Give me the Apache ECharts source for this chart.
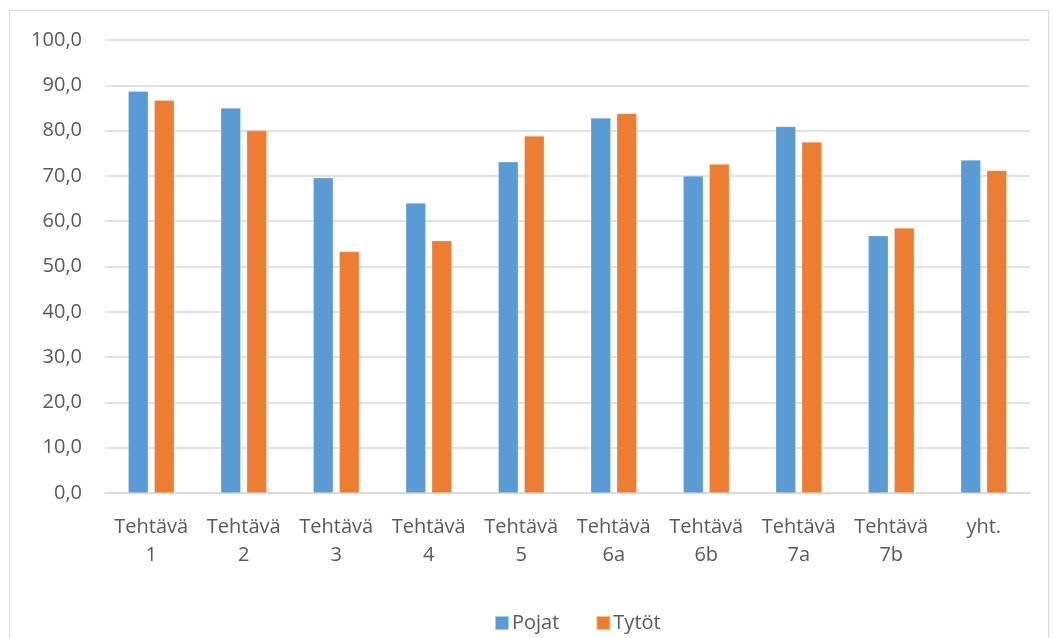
<!DOCTYPE html>
<html>
<head>
<meta charset="utf-8">
<script src="https://cdn.jsdelivr.net/npm/echarts@6/dist/echarts.min.js"></script>
<style>
  html, body { margin: 0; padding: 0; background: #fff; }
  #frame { position: absolute; left: 9px; top: 10px; width: 1040px; height: 640px; border: 1px solid #d9d9d9; box-sizing: border-box; }
  #chart { position: absolute; left: 0; top: 0; width: 1054px; height: 638px; }
</style>
</head>
<body>
<div id="frame"></div>
<div id="chart"></div>
<script>
const categories = ['Tehtävä\n1', 'Tehtävä\n2', 'Tehtävä\n3', 'Tehtävä\n4', 'Tehtävä\n5',
  'Tehtävä\n6a', 'Tehtävä\n6b', 'Tehtävä\n7a', 'Tehtävä\n7b', 'yht.']
const pojat = [88.7, 85.0, 69.6, 64.0, 73.1, 82.8, 70.0, 80.9, 56.8, 73.5]
const tytot = [86.7, 80.0, 53.3, 55.7, 78.8, 83.8, 72.6, 77.5, 58.5, 71.2]
const seriesNames = ['Pojat', 'Tytöt']
const colors = ['#5b9bd5', '#ed7d31']

const font = '"Open Sans", "Liberation Sans", sans-serif'
const textColor = '#595959'

const chart = echarts.init(document.getElementById('chart'))
chart.setOption({
  animation: false,
  color: colors,
  grid: { left: 105, right: 24, top: 40, bottom: 145, containLabel: false },
  legend: {
    top: 608,
    left: 489,
    itemWidth: 14,
    itemHeight: 14,
    itemGap: 36,
    icon: 'rect',
    textStyle: { fontFamily: font, fontSize: 20, color: textColor, padding: [0, 0, 0, -2] },
    data: seriesNames,
  },
  xAxis: {
    type: 'category',
    data: categories,
    axisLine: { lineStyle: { color: '#d9d9d9', width: 1.5 } },
    axisTick: { show: false },
    axisLabel: {
      fontFamily: font, fontSize: 20, color: textColor,
      lineHeight: 28, margin: 20, interval: 0,
    },
  },
  yAxis: {
    type: 'value',
    min: 0,
    max: 100,
    interval: 10,
    axisLine: { show: false },
    axisTick: { show: false },
    splitLine: { lineStyle: { color: '#d9d9d9', width: 1.5 } },
    axisLabel: {
      fontFamily: font, fontSize: 20, color: textColor, margin: 23,
      formatter: (v) => v.toFixed(1).replace('.', ','),
    },
  },
  series: [
    {
      name: seriesNames[0],
      type: 'bar',
      data: pojat,
      barWidth: 20,
      barGap: '30%',
      itemStyle: { borderColor: 'rgba(255,255,255,0.5)', borderWidth: 0.5 },
    },
    {
      name: seriesNames[1],
      type: 'bar',
      data: tytot,
      barWidth: 20,
      barGap: '30%',
      itemStyle: { borderColor: 'rgba(255,255,255,0.5)', borderWidth: 0.5 },
    },
  ],
})
</script>
</body>
</html>
